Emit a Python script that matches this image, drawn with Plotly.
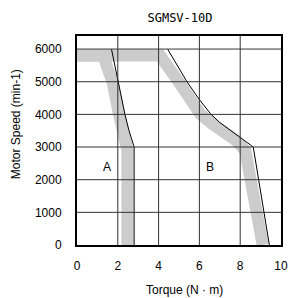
import plotly.graph_objects as go

# Gray (band) curves
gray_a_torque = [0, 1.3, 1.5, 1.74, 2.06, 2.35, 2.47, 2.47]
gray_a_speed = [5800, 5800, 5400, 5000, 4000, 3200, 2900, 0]
gray_b_torque = [0, 4.07, 4.98, 5.5, 6.06, 6.65, 7.33, 7.8, 8.25, 9.1]
gray_b_speed = [5800, 5800, 5000, 4500, 4000, 3700, 3450, 3200, 2890, 0]

# Black (thin) curves
black_a_torque = [1.69, 1.85, 2.0, 2.17, 2.35, 2.55, 2.8, 2.8]
black_a_speed = [6000, 5500, 5000, 4500, 4000, 3500, 3000, 0]
black_b_torque = [4.44, 4.9, 5.39, 6.0, 6.57, 7.0, 7.49, 8.12, 8.64, 9.43]
black_b_speed = [6000, 5500, 5000, 4450, 4000, 3750, 3530, 3220, 3000, 0]

region_labels = ["A", "B"]
region_torque = [1.48, 6.54]
region_speed = [2400, 2400]

x_ticks = [0, 2, 4, 6, 8, 10]
y_ticks = [0, 1000, 2000, 3000, 4000, 5000, 6000]
x_grid = [2, 4, 6, 8]
y_grid = [1000, 2000, 3000, 4000, 5000, 6000]

GRAY = "#cccccc"
fig = go.Figure()
for xs, ys in [(gray_a_torque, gray_a_speed), (gray_b_torque, gray_b_speed)]:
    fig.add_trace(go.Scatter(x=xs, y=ys, mode="lines",
                             line=dict(color=GRAY, width=12), hoverinfo="skip"))
for xs, ys in [(black_a_torque, black_a_speed), (black_b_torque, black_b_speed)]:
    fig.add_trace(go.Scatter(x=xs, y=ys, mode="lines",
                             line=dict(color="#000000", width=1), hoverinfo="skip"))

for g in x_grid:
    fig.add_shape(type="line", xref="x", yref="paper", x0=g, x1=g, y0=0, y1=1,
                  line=dict(color="#333333", width=1), layer="above")
for g in y_grid:
    fig.add_shape(type="line", xref="paper", yref="y", x0=0, x1=1, y0=g, y1=g,
                  line=dict(color="#333333", width=1), layer="above")

for t, xv, yv in zip(region_labels, region_torque, region_speed):
    fig.add_annotation(x=xv, y=yv, text=t, showarrow=False,
                       font=dict(family="Liberation Sans", size=12, color="#000"))

fig.add_annotation(xref="paper", yref="paper", x=0.526, y=-0.214, text="Torque (N · m)",
                   xanchor="center", yanchor="middle",
                   showarrow=False, font=dict(family="Liberation Sans", size=12, color="#000"))
fig.add_annotation(xref="paper", yref="paper", x=-0.302, y=0.58, text="Motor Speed (min-1)",
                   xanchor="center", yanchor="middle",
                   textangle=-90, showarrow=False,
                   font=dict(family="Liberation Sans", size=12, color="#000"))

fig.update_layout(
    width=291, height=290,
    margin=dict(l=69, r=11, t=28, b=53),
    paper_bgcolor="white", plot_bgcolor="white",
    showlegend=False,
    title=dict(text="SGMSV-10D", x=0.591, xanchor="center", y=0.966, yanchor="middle",
               font=dict(family="DejaVu Sans Mono", size=12, color="#000")),
    xaxis=dict(range=[0, 10], tickvals=x_ticks, showgrid=False, zeroline=False,
               showline=True, mirror=True, linecolor="#000", linewidth=2,
               ticks="outside", ticklen=9, tickcolor="rgba(0,0,0,0)",
               tickfont=dict(family="Liberation Sans", size=12, color="#000")),
    yaxis=dict(range=[0, 6400], tickvals=y_ticks, showgrid=False, zeroline=False,
               showline=True, mirror=True, linecolor="#000", linewidth=2,
               ticks="outside", ticklen=11, tickcolor="rgba(0,0,0,0)",
               tickfont=dict(family="Liberation Sans", size=12, color="#000")),
)

fig.write_html("out.html")
